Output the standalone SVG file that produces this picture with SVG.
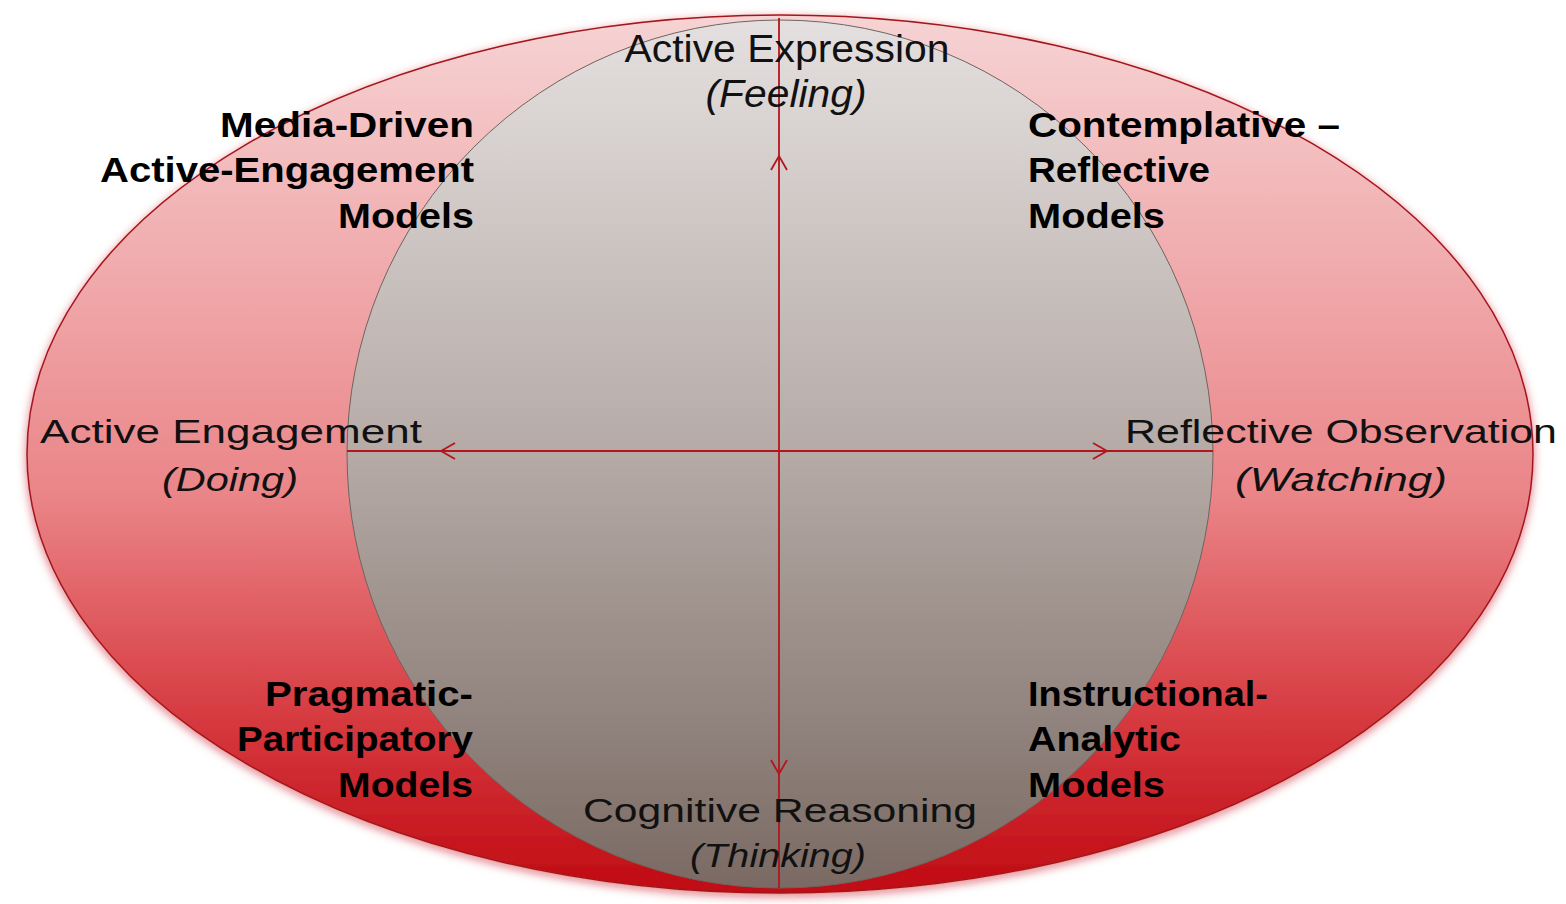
<svg xmlns="http://www.w3.org/2000/svg" width="1566" height="904" viewBox="0 0 1566 904">
<defs>
<linearGradient id="gOuter" gradientUnits="userSpaceOnUse" x1="0" y1="15" x2="0" y2="893">
<stop offset="0" stop-color="#f6d3d4"/>
<stop offset="0.3" stop-color="#f0a9ab"/>
<stop offset="0.55" stop-color="#ea8487"/>
<stop offset="0.8" stop-color="#d63a40"/>
<stop offset="1" stop-color="#c00a12"/>
</linearGradient>
<linearGradient id="gInner" gradientUnits="userSpaceOnUse" x1="0" y1="20" x2="0" y2="888">
<stop offset="0" stop-color="#e4e0df"/>
<stop offset="0.5" stop-color="#b5aaa6"/>
<stop offset="1" stop-color="#7a6a63"/>
</linearGradient>
<filter id="glow" x="-5%" y="-8%" width="110%" height="116%">
<feDropShadow dx="0" dy="3" stdDeviation="5" flood-color="#c8101a" flood-opacity="0.55"/>
</filter>
<style>
.reg{font-family:"Liberation Sans",Arial,sans-serif;fill:#111;text-anchor:middle}
.it{font-style:italic}
.bold{font-family:"Liberation Sans",Arial,sans-serif;font-weight:bold;fill:#000;font-size:35px}
.ax{stroke:#b3161d;stroke-width:1.8;fill:none}
</style>
</defs>
<rect width="1566" height="904" fill="#ffffff"/>
<g id="outer">
<ellipse cx="780" cy="454" rx="753" ry="439" fill="url(#gOuter)" stroke="#a3161c" stroke-width="1.5" filter="url(#glow)"/>
</g>
<g id="inner">
<ellipse cx="780" cy="454" rx="433" ry="434" fill="url(#gInner)" stroke="#6e6460" stroke-width="1"/>
</g>
<g id="connectors">
<line class="ax" x1="779" y1="451" x2="779" y2="18"/>
<line class="ax" x1="779" y1="451" x2="779" y2="888"/>
<line class="ax" x1="779" y1="451" x2="347" y2="451"/>
<line class="ax" x1="779" y1="451" x2="1213" y2="451"/>
<path class="ax" d="M771,170 L779,156 L787,170"/>
<path class="ax" d="M771,760 L779,774 L787,760"/>
<path class="ax" d="M455,443 L441,451 L455,459"/>
<path class="ax" d="M1093,443 L1107,451 L1093,459"/>
</g>
<g id="top">
<text class="reg" x="787" y="62" font-size="38" textLength="325" lengthAdjust="spacingAndGlyphs">Active Expression</text>
<text class="reg it" x="786" y="107" font-size="38" textLength="161" lengthAdjust="spacingAndGlyphs">(Feeling)</text>
</g>
<g id="left">
<text class="reg" x="231" y="443" font-size="33" textLength="382" lengthAdjust="spacingAndGlyphs">Active Engagement</text>
<text class="reg it" x="230" y="491" font-size="33" textLength="136" lengthAdjust="spacingAndGlyphs">(Doing)</text>
</g>
<g id="right">
<text class="reg" x="1341" y="443" font-size="33" textLength="432" lengthAdjust="spacingAndGlyphs">Reflective Observation</text>
<text class="reg it" x="1341" y="491" font-size="33" textLength="212" lengthAdjust="spacingAndGlyphs">(Watching)</text>
</g>
<g id="bottom">
<text class="reg" x="780" y="822" font-size="34" textLength="394" lengthAdjust="spacingAndGlyphs">Cognitive Reasoning</text>
<text class="reg it" x="778" y="867" font-size="34" textLength="176" lengthAdjust="spacingAndGlyphs">(Thinking)</text>
</g>
<g id="q-top-left">
<text class="bold" x="474" y="137" text-anchor="end" textLength="254" lengthAdjust="spacingAndGlyphs">Media-Driven</text>
<text class="bold" x="474" y="182" text-anchor="end" textLength="374" lengthAdjust="spacingAndGlyphs">Active-Engagement</text>
<text class="bold" x="474" y="228" text-anchor="end" textLength="136" lengthAdjust="spacingAndGlyphs">Models</text>
</g>
<g id="q-top-right">
<text class="bold" x="1028" y="137" textLength="312" lengthAdjust="spacingAndGlyphs">Contemplative –</text>
<text class="bold" x="1028" y="182" textLength="182" lengthAdjust="spacingAndGlyphs">Reflective</text>
<text class="bold" x="1028" y="228" textLength="137" lengthAdjust="spacingAndGlyphs">Models</text>
</g>
<g id="q-bottom-left">
<text class="bold" x="473" y="706" text-anchor="end" textLength="208" lengthAdjust="spacingAndGlyphs">Pragmatic-</text>
<text class="bold" x="473" y="751" text-anchor="end" textLength="236" lengthAdjust="spacingAndGlyphs">Participatory</text>
<text class="bold" x="473" y="797" text-anchor="end" textLength="135" lengthAdjust="spacingAndGlyphs">Models</text>
</g>
<g id="q-bottom-right">
<text class="bold" x="1028" y="706" textLength="240" lengthAdjust="spacingAndGlyphs">Instructional-</text>
<text class="bold" x="1028" y="751" textLength="153" lengthAdjust="spacingAndGlyphs">Analytic</text>
<text class="bold" x="1028" y="797" textLength="137" lengthAdjust="spacingAndGlyphs">Models</text>
</g>
</svg>
